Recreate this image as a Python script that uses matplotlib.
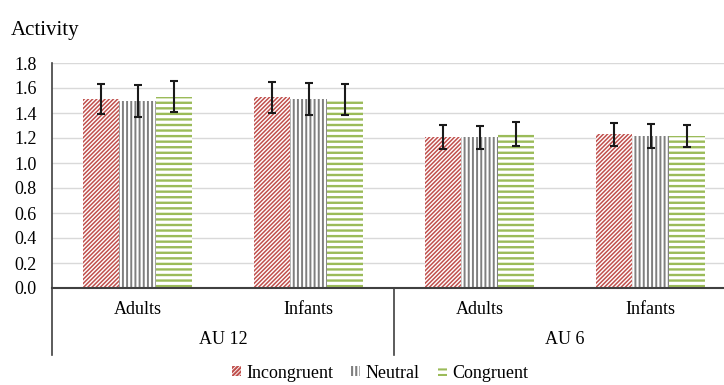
import matplotlib
matplotlib.use("Agg")
import matplotlib.pyplot as plt
import numpy as np
from matplotlib.patches import Patch

plt.rcParams['font.family'] = ['Liberation Serif', 'DejaVu Serif']
plt.rcParams['hatch.linewidth'] = 1.5

categories = ["Adults", "Infants", "Adults", "Infants"]
groups = ["AU 12", "AU 6"]
series = ["Incongruent", "Neutral", "Congruent"]
incongruent = [1.51, 1.525, 1.21, 1.23]
neutral = [1.497, 1.51, 1.205, 1.215]
congruent = [1.532, 1.505, 1.23, 1.218]
err_incongruent = [0.121, 0.127, 0.097, 0.092]
err_neutral = [0.127, 0.127, 0.094, 0.097]
err_congruent = [0.124, 0.124, 0.096, 0.09]
yticks = [0.0, 0.2, 0.4, 0.6, 0.8, 1.0, 1.2, 1.4, 1.6, 1.8]

colors = ["#C0504D", "#7F7F7F", "#9BBB59"]
hatches = ["////////", "||||", "---"]
hatch_lw = [1.1, 1.4, 1.7]

W, H = 724, 385
fig = plt.figure(figsize=(W / 100, H / 100), dpi=100)
left, right, bottom, top = 52, 736, 288, 63
ax = fig.add_axes([left / W, 1 - bottom / H, (right - left) / W, (bottom - top) / H])


def set_hlw(p, lw):
    try:
        p.set_hatch_linewidth(lw)
    except AttributeError:
        pass


x = np.arange(len(categories))
bw = 0.212
vals = [incongruent, neutral, congruent]
errs = [err_incongruent, err_neutral, err_congruent]
for i in range(3):
    xs = x + (i - 1) * bw
    bars = ax.bar(xs, vals[i], width=bw, color="white", edgecolor=colors[i],
                  hatch=hatches[i], linewidth=0, zorder=2)
    for b in bars:
        set_hlw(b, hatch_lw[i])
    ax.errorbar(xs, vals[i], yerr=errs[i], fmt="none", ecolor="#1a1a1a",
                elinewidth=1.5, capsize=3, capthick=1.5, zorder=3)

ax.set_xlim(-0.5, 3.5)
ax.set_ylim(0, 1.8)
ax.set_yticks(yticks)
ax.set_yticklabels([f"{v:.1f}" for v in yticks], fontsize=13)
ax.tick_params(axis="y", length=0, pad=11)
ax.set_xticks([])
ax.yaxis.grid(True, color="#D9D9D9", linewidth=1)
ax.set_axisbelow(True)
for s in ["top", "right"]:
    ax.spines[s].set_visible(False)
ax.spines["left"].set_color("#404040")
ax.spines["bottom"].set_color("#404040")
ax.spines["left"].set_linewidth(1.2)
ax.spines["bottom"].set_linewidth(1.5)

# category axis labels and dividers
ylow = -(355 - 288) / 125
for xi in [-0.5, 1.5, 3.5]:
    ax.plot([xi, xi], [0, ylow], color="#404040", linewidth=1.2, clip_on=False)
for xi, c in zip(x, categories):
    ax.text(xi, -(310 - 288) / 125, c, ha="center", va="center", fontsize=13)
for gi, g in enumerate(groups):
    ax.text(0.5 + 2 * gi, -(340 - 288) / 125, g, ha="center", va="center", fontsize=13)

fig.text(11 / W, 1 - 30 / H, "Activity", ha="left", va="center", fontsize=15)

handles = []
for i in range(3):
    p = Patch(facecolor="white", edgecolor=colors[i], hatch=hatches[i], linewidth=0, label=series[i])
    set_hlw(p, hatch_lw[i])
    handles.append(p)
fig.legend(handles=handles, loc="center", bbox_to_anchor=(380 / W, 1 - 373 / H), ncol=3,
           frameon=False, fontsize=13, handlelength=0.5, handleheight=0.5,
           handletextpad=0.3, columnspacing=1.0)

fig.savefig("out.png", dpi=100)
